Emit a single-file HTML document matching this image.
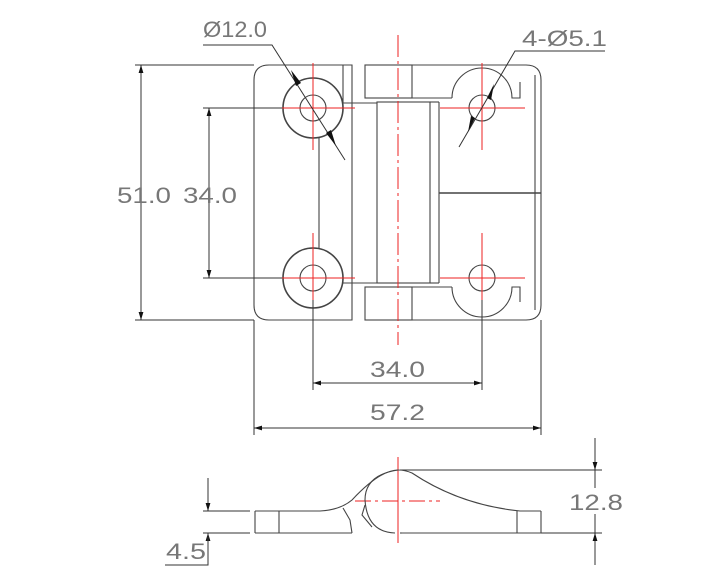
<!DOCTYPE html>
<html><head><meta charset="utf-8"><style>html,body{margin:0;padding:0;background:#fff}svg{display:block}</style></head><body>
<svg width="710" height="585" viewBox="0 0 710 585" xmlns="http://www.w3.org/2000/svg">
<defs>
<marker id="a" viewBox="0 0 10 10" refX="10" refY="5" markerWidth="8" markerHeight="8" orient="auto-start-reverse"><path d="M0,2 L10,5 L0,8z" fill="#111"/></marker>
</defs>
<g fill="none" stroke="#444" stroke-width="1.1">
<path d="M254,80 Q254,65 269,65 L352,65 L352,320 L269,320 Q254,320 254,305 Z"/>
<line x1="343" y1="65" x2="343" y2="103"/>
<line x1="343" y1="103" x2="377" y2="103"/>
<line x1="343" y1="283" x2="377" y2="283"/>
<line x1="319" y1="138" x2="319" y2="248"/>
<circle cx="313" cy="108" r="30" stroke-width="1.6"/>
<circle cx="313" cy="108" r="13"/>
<circle cx="313" cy="278" r="30" stroke-width="1.6"/>
<circle cx="313" cy="278" r="13"/>
<rect x="377" y="102" width="53" height="181"/>
<line x1="439" y1="102" x2="439" y2="283"/>
<line x1="430" y1="102" x2="439" y2="102"/>
<line x1="430" y1="283" x2="439" y2="283"/>
<rect x="365" y="65" width="47" height="33"/>
<rect x="365" y="287" width="47" height="33"/>
<path d="M412,65 L526,65 Q541,65 541,80 L541,305 Q541,320 526,320 L412,320"/>
<line x1="412" y1="98" x2="452" y2="98"/>
<line x1="412" y1="287" x2="452" y2="287"/>
<path d="M452,98 A30,30 0 0 1 512,98 L520,98 L520,82"/>
<path d="M452,287 A30,30 0 0 0 512,287 L520,287 L520,302"/>
<line x1="439" y1="193" x2="541" y2="193" stroke-width="1.4"/>
<line x1="535" y1="75" x2="535" y2="310"/>
<circle cx="482" cy="108" r="13"/>
<circle cx="482" cy="278" r="13"/>
</g>
<g stroke="#e22" stroke-width="1" fill="none">
<line x1="398" y1="35" x2="398" y2="345" stroke-dasharray="22,4,3,4"/>
<line x1="270" y1="108" x2="355" y2="108"/><line x1="313" y1="63" x2="313" y2="150"/>
<line x1="270" y1="278" x2="355" y2="278"/><line x1="313" y1="233" x2="313" y2="300"/>
<line x1="440" y1="108" x2="525" y2="108"/><line x1="482" y1="63" x2="482" y2="150"/>
<line x1="440" y1="278" x2="525" y2="278"/><line x1="482" y1="233" x2="482" y2="300"/>
<line x1="398" y1="457" x2="398" y2="543"/>
<line x1="355" y1="501" x2="440" y2="501" stroke-dasharray="16,4,3,4"/>
</g>
<g stroke="#333" stroke-width="1" fill="none">
<line x1="135" y1="65" x2="254" y2="65"/><line x1="135" y1="320" x2="254" y2="320"/>
<line x1="141" y1="65" x2="141" y2="320" marker-start="url(#a)" marker-end="url(#a)"/>
<line x1="203" y1="108" x2="282" y2="108"/><line x1="203" y1="278" x2="282" y2="278"/>
<line x1="209" y1="108" x2="209" y2="278" marker-start="url(#a)" marker-end="url(#a)"/>
<line x1="313" y1="300" x2="313" y2="390"/><line x1="482" y1="300" x2="482" y2="390"/>
<line x1="313" y1="383" x2="482" y2="383" marker-start="url(#a)" marker-end="url(#a)"/>
<line x1="254" y1="320" x2="254" y2="435"/><line x1="541" y1="320" x2="541" y2="435"/>
<line x1="254" y1="428" x2="541" y2="428" marker-start="url(#a)" marker-end="url(#a)"/>
<polyline points="203,45 272,45 345,160"/>
<polyline points="605,51 515,51 459,147"/>
<line x1="400" y1="470" x2="602" y2="470"/><line x1="400" y1="533" x2="602" y2="533"/>
<line x1="595" y1="438" x2="595" y2="470" marker-end="url(#a)"/>
<line x1="595" y1="565" x2="595" y2="533" marker-end="url(#a)"/>
<line x1="595" y1="470" x2="595" y2="533"/>
<line x1="203" y1="511" x2="250" y2="511"/><line x1="203" y1="533" x2="250" y2="533"/>
<line x1="208" y1="478" x2="208" y2="511" marker-end="url(#a)"/>
<line x1="208" y1="565" x2="208" y2="533" marker-end="url(#a)"/>
<polyline points="165,565 208,565 208,533"/>
</g>
<g fill="#111">
<path d="M291,70 L301,83 L296,86z"/>
<path d="M336,146 L326,133 L331,130z"/>
<path d="M494,84 L487,98 L491,100z"/>
<path d="M468,132 L475,118 L471,116z"/>
</g>
<g fill="none" stroke="#444" stroke-width="1.1">
<line x1="255" y1="511" x2="255" y2="533"/><line x1="279" y1="511" x2="279" y2="533"/>
<line x1="255" y1="533" x2="352" y2="533"/><line x1="402" y1="533" x2="541" y2="533"/>
<line x1="541" y1="511" x2="541" y2="533"/><line x1="517" y1="511" x2="517" y2="533"/>
<path d="M255,511 L320,511 Q340,510 352,500 Q380,470 398,470 Q405,470 412,473 Q460,505 520,511 L541,511"/>
<path d="M398,470 Q365,475 365,500 Q367,532 395,533"/>
<path d="M343,508 L350,520 L352,533"/>
<path d="M365,505 L362,515 L372,527"/>
</g>
<rect x="570" y="488" width="52" height="26" fill="#fff"/>
<g font-family="Liberation Sans, sans-serif" font-size="22" fill="#777" lengthAdjust="spacingAndGlyphs">
<text x="203" y="37" textLength="64" lengthAdjust="spacingAndGlyphs">Ø12.0</text>
<text x="522" y="46" textLength="85" lengthAdjust="spacingAndGlyphs">4-Ø5.1</text>
<text x="117" y="203" textLength="54" lengthAdjust="spacingAndGlyphs">51.0</text>
<text x="183" y="203" textLength="54" lengthAdjust="spacingAndGlyphs">34.0</text>
<text x="370" y="377" textLength="55" lengthAdjust="spacingAndGlyphs">34.0</text>
<text x="370" y="420" textLength="55" lengthAdjust="spacingAndGlyphs">57.2</text>
<text x="569" y="510" textLength="54" lengthAdjust="spacingAndGlyphs">12.8</text>
<text x="166" y="559" textLength="40" lengthAdjust="spacingAndGlyphs">4.5</text>
</g>
</svg>
</body></html>
